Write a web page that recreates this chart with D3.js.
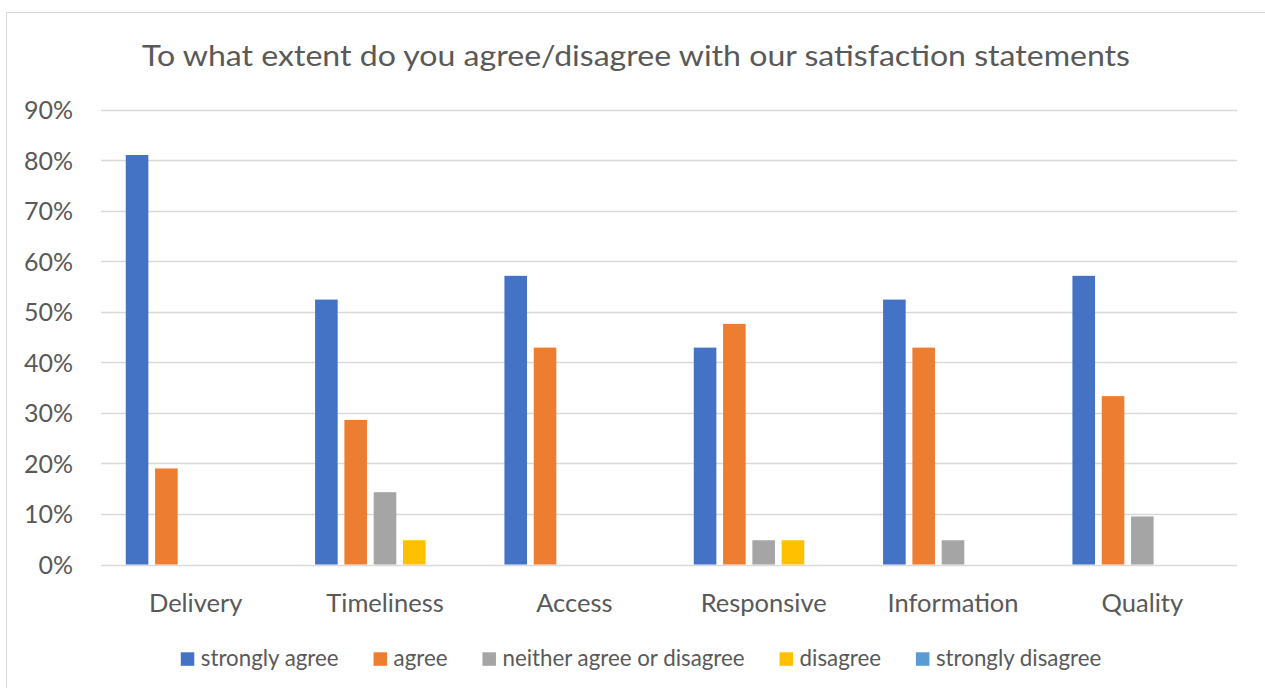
<!DOCTYPE html>
<html><head><meta charset="utf-8">
<script src="https://cdn.jsdelivr.net/npm/d3@7"></script>
<style>body{margin:0;background:#fff;overflow:hidden}svg{display:block}</style>
</head><body>
<svg id="c" width="1265" height="688"></svg>
<script>
const titleText = "To what extent do you agree/disagree with our satisfaction statements";
const categories = ["Delivery","Timeliness","Access","Responsive","Information","Quality"];
const seriesNames = ["strongly agree","agree","neither agree or disagree","disagree","strongly disagree"];
const seriesColors = ["#4472C4","#ED7D31","#A5A5A5","#FFC000","#5B9BD5"];
const stronglyAgree = [0.810, 0.524, 0.571, 0.429, 0.524, 0.571];
const agree = [0.190, 0.286, 0.429, 0.476, 0.429, 0.333];
const neither = [0, 0.143, 0, 0.048, 0.048, 0.095];
const disagree = [0, 0.048, 0, 0.048, 0, 0];
const stronglyDisagree = [0, 0, 0, 0, 0, 0];
const yTicks = [0,0.1,0.2,0.3,0.4,0.5,0.6,0.7,0.8,0.9];

const seriesValues = [stronglyAgree, agree, neither, disagree, stronglyDisagree];
const font = "Lato, 'Open Sans', sans-serif";
const textColor = "#595959";
const svg = d3.select("#c");

// chart border
svg.append("rect").attr("x",6.5).attr("y",12.5).attr("width",1300).attr("height",700)
  .attr("fill","none").attr("stroke","#d9d9d9").attr("stroke-width",1);

// title
svg.append("text").attr("x",636).attr("y",66).attr("text-anchor","middle")
  .attr("font-family",font).attr("font-size",28.5).attr("fill",textColor)
  .attr("textLength",988).attr("lengthAdjust","spacingAndGlyphs").text(titleText);

const x0 = d3.scaleBand().domain(categories).range([101,1237]).padding(0);
const x1 = d3.scaleBand().domain(seriesNames).range([0,x0.bandwidth()]).paddingInner(0.229).paddingOuter(0.845);
const y = d3.scaleLinear().domain([0,0.9]).range([564.5,109.5]);

// gridlines
svg.append("g").selectAll("line").data(yTicks).join("line")
  .attr("x1",101).attr("x2",1237)
  .attr("y1",d=>Math.round(y(d))+0.5).attr("y2",d=>Math.round(y(d))+0.5)
  .attr("stroke","#d9d9d9").attr("stroke-width",1.3);

// y axis labels
const yAxis = d3.axisLeft(y).tickValues(yTicks).tickFormat(d3.format(".0%")).tickSize(0).tickPadding(0);
const ya = svg.append("g").attr("transform","translate(73,0)").call(yAxis);
ya.select(".domain").remove();
ya.selectAll("text").attr("font-family",font).attr("font-size",25).attr("fill",textColor).attr("dy","0.36em");

// bars
const data = categories.map((c,i)=>({cat:c, vals:seriesNames.map((s,j)=>({s, v:seriesValues[j][i], color:seriesColors[j]}))}));
const groups = svg.append("g").selectAll("g").data(data).join("g")
  .attr("transform",d=>`translate(${x0(d.cat)},0)`);
groups.selectAll("rect").data(d=>d.vals.filter(v=>v.v>0)).join("rect")
  .attr("x",d=>x1(d.s)).attr("width",x1.bandwidth())
  .attr("y",d=>y(d.v)).attr("height",d=>y(0)-y(d.v))
  .attr("fill",d=>d.color);

// x axis labels
const xAxis = d3.axisBottom(x0).tickSize(0).tickPadding(0);
const xa = svg.append("g").attr("transform","translate(0,612)").call(xAxis);
xa.select(".domain").remove();
xa.selectAll("text").attr("font-family",font).attr("font-size",25.5).attr("fill",textColor).attr("dy","0");

// legend
const leg = svg.append("g");
const items = leg.selectAll("g").data(seriesNames).join("g");
items.append("rect").attr("width",13.5).attr("height",13.5).attr("y",652.3)
  .attr("fill",(d,i)=>seriesColors[i]);
items.append("text").attr("x",20).attr("y",666).attr("font-family",font).attr("font-size",22.3)
  .attr("fill",textColor).text(d=>d);
const widths = [];
items.each(function(){ widths.push(20 + this.querySelector("text").getComputedTextLength()); });
const gap = 35;
const total = d3.sum(widths) + gap*(widths.length-1);
let cx = 641 - total/2;
items.attr("transform",(d,i)=>{ const t=`translate(${cx},0)`; cx += widths[i]+gap; return t; });
</script>
</body></html>
